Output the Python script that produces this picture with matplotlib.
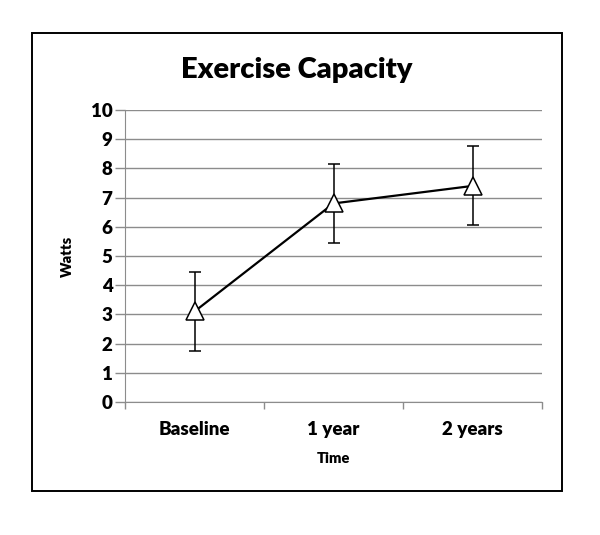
import matplotlib
matplotlib.use("Agg")
import matplotlib.pyplot as plt
from matplotlib.patches import Rectangle

# data
times = ["Baseline", "1 year", "2 years"]
watts = [3.1, 6.8, 7.4]
errors = [1.34, 1.34, 1.35]
y_ticks = list(range(0, 11))

plt.rcParams["font.family"] = ["Lato", "DejaVu Sans"]

W, H = 600, 535
fig = plt.figure(figsize=(W / 100, H / 100), dpi=100)

# axes placed in pixel terms: left 125, right 542, top 110, bottom 402
ax = fig.add_axes([125 / W, 1 - 402 / H, (542 - 125) / W, (402 - 110) / H])

xs = list(range(len(times)))
ax.errorbar(xs, watts, yerr=errors, color="black", linewidth=1.6,
            elinewidth=1.1, capsize=4, capthick=1.1,
            marker="^", markersize=13, markerfacecolor="white",
            markeredgecolor="black", markeredgewidth=1.1, zorder=3)

ax.set_xlim(-0.5, len(times) - 0.5)
ax.set_ylim(0, 10)
ax.set_yticks(y_ticks)
ax.set_yticklabels([str(t) for t in y_ticks], fontsize=13.5, fontweight="heavy")
ax.set_xticks(xs)
ax.set_xticklabels(times, fontsize=13.5, fontweight="heavy")
ax.set_xticks([x - 0.5 for x in range(len(times) + 1)], minor=True)
ax.tick_params(axis="x", which="major", length=0, pad=14)
ax.tick_params(axis="x", which="minor", length=5, color="#8c8c8c", width=1)
ax.tick_params(axis="y", length=7, color="#8c8c8c", width=1, pad=2)

ax.grid(axis="y", color="#8c8c8c", linewidth=1)
ax.set_axisbelow(True)
for side in ["top", "right"]:
    ax.spines[side].set_visible(False)
ax.spines["left"].set_color("#8c8c8c")
ax.spines["bottom"].set_color("#8c8c8c")

ax.set_ylabel("Watts", fontsize=10.5, fontweight="heavy", labelpad=12)
ax.set_xlabel("Time", fontsize=10.5, fontweight="heavy", labelpad=10)

fig.text(297 / W, 1 - 70 / H, "Exercise Capacity", ha="center", va="center",
         fontsize=21, fontweight="heavy")

# outer chart border
fig.patches.append(Rectangle((32 / W, 1 - 491 / H), (562 - 32) / W, (491 - 33) / H,
                             transform=fig.transFigure, fill=False,
                             edgecolor="black", linewidth=1.4))

fig.savefig("out.png", dpi=100)
